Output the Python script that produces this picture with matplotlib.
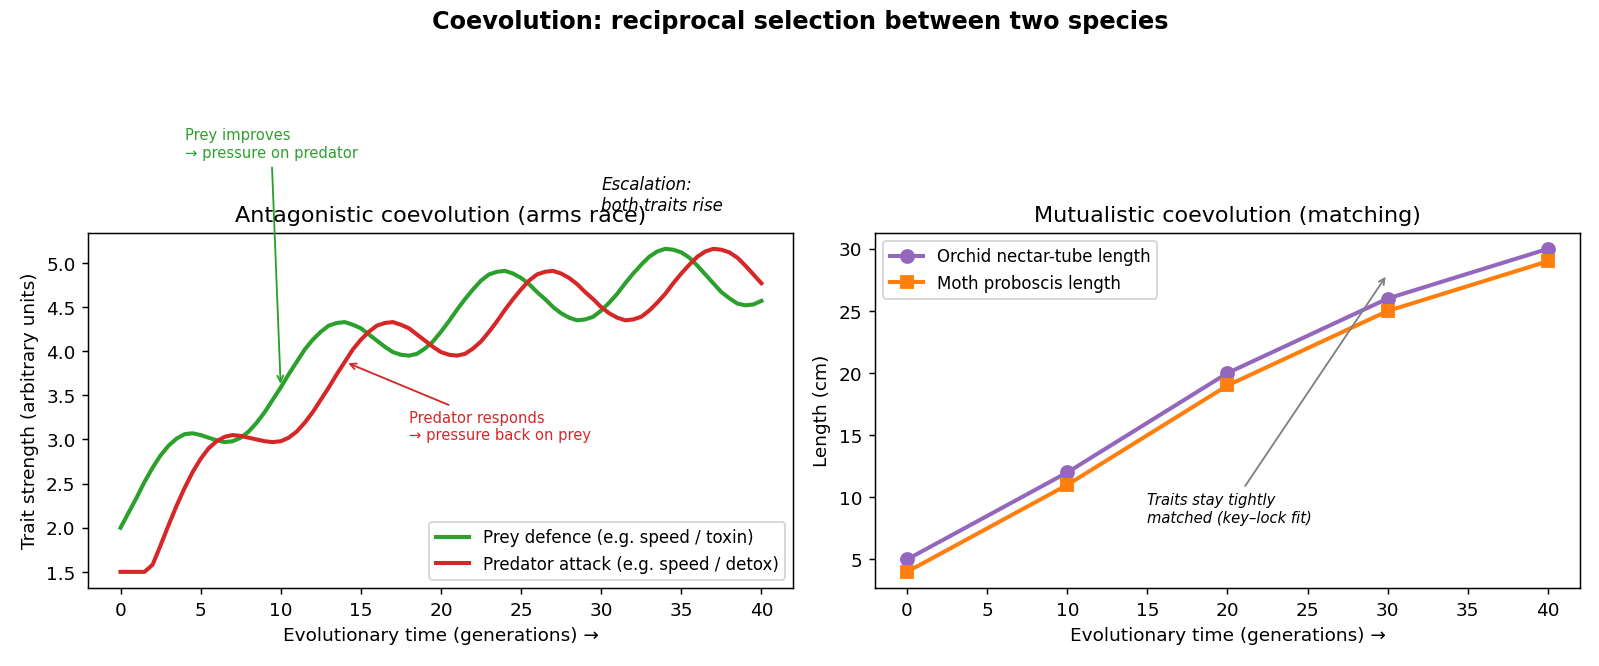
import matplotlib
matplotlib.use("Agg")
import matplotlib.pyplot as plt

gens = [i * 0.5 for i in range(81)]
prey_defence = [2.00, 2.17, 2.34, 2.52, 2.68, 2.82, 2.93, 3.01, 3.06, 3.07,
                3.05, 3.02, 2.99, 2.97, 2.98, 3.02, 3.09, 3.19, 3.31, 3.45,
                3.59, 3.74, 3.88, 4.02, 4.13, 4.22, 4.29, 4.32, 4.33, 4.30,
                4.26, 4.19, 4.12, 4.05, 3.99, 3.96, 3.95, 3.97, 4.03, 4.11,
                4.22, 4.34, 4.47, 4.59, 4.70, 4.80, 4.87, 4.90, 4.91, 4.88,
                4.83, 4.76, 4.67, 4.59, 4.50, 4.43, 4.38, 4.35, 4.36, 4.39,
                4.46, 4.55, 4.65, 4.77, 4.88, 4.98, 5.07, 5.13, 5.16, 5.15,
                5.12, 5.06, 4.97, 4.87, 4.77, 4.67, 4.60, 4.54, 4.52, 4.53,
                4.57]
predator_attack = [1.50, 1.50, 1.50, 1.50, 1.58, 1.80, 2.03, 2.25, 2.45, 2.63,
                   2.78, 2.90, 2.98, 3.03, 3.05, 3.04, 3.02, 3.00, 2.98, 2.97,
                   2.98, 3.02, 3.09, 3.19, 3.31, 3.45, 3.59, 3.74, 3.88, 4.02,
                   4.13, 4.22, 4.29, 4.32, 4.33, 4.30, 4.26, 4.19, 4.12, 4.05,
                   3.99, 3.96, 3.95, 3.97, 4.03, 4.11, 4.22, 4.34, 4.47, 4.59,
                   4.70, 4.80, 4.87, 4.90, 4.91, 4.88, 4.83, 4.76, 4.67, 4.59,
                   4.50, 4.43, 4.38, 4.35, 4.36, 4.39, 4.46, 4.55, 4.65, 4.77,
                   4.88, 4.98, 5.07, 5.13, 5.16, 5.15, 5.12, 5.06, 4.97, 4.87,
                   4.77]

match_gens = [0, 10, 20, 30, 40]
orchid_tube = [5, 12, 20, 26, 30]
moth_proboscis = [4, 11, 19, 25, 29]

fig = plt.figure(figsize=(12, 5), dpi=133.33)
ax1 = fig.add_axes([0.0553, 0.117, 0.4406, 0.533])
ax2 = fig.add_axes([0.5469, 0.117, 0.4406, 0.533])

fig.suptitle("Coevolution: reciprocal selection between two species",
             fontsize=13, fontweight="bold", y=0.985)

# ---- left panel ----
ax1.plot(gens, prey_defence, color="#2ca02c", lw=2.2, label="Prey defence (e.g. speed / toxin)")
ax1.plot(gens, predator_attack, color="#d62728", lw=2.2, label="Predator attack (e.g. speed / detox)")
ax1.set_title("Antagonistic coevolution (arms race)", fontsize=12)
ax1.set_xlabel("Evolutionary time (generations) →", fontsize=10)
ax1.set_ylabel("Trait strength (arbitrary units)", fontsize=10)
ax1.legend(loc="lower right", fontsize=9)

ax1.annotate("Prey improves\n→ pressure on predator",
             xy=(10, prey_defence[20]), xytext=(4, 6.2),
             color="#2ca02c", fontsize=8, annotation_clip=False,
             arrowprops=dict(arrowstyle="->", color="#2ca02c", lw=1))
ax1.annotate("Predator responds\n→ pressure back on prey",
             xy=(14, predator_attack[28]), xytext=(18, 3.0),
             color="#d62728", fontsize=8,
             arrowprops=dict(arrowstyle="->", color="#d62728", lw=1))
ax1.text(30, 5.6, "Escalation:\nboth traits rise", fontsize=9, style="italic",
         clip_on=False)

# ---- right panel ----
ax2.plot(match_gens, orchid_tube, color="#9467bd", lw=2.2, marker="o", ms=7,
         label="Orchid nectar-tube length")
ax2.plot(match_gens, moth_proboscis, color="#ff7f0e", lw=2.2, marker="s", ms=7,
         label="Moth proboscis length")
ax2.set_title("Mutualistic coevolution (matching)", fontsize=12)
ax2.set_xlabel("Evolutionary time (generations) →", fontsize=10)
ax2.set_ylabel("Length (cm)", fontsize=10)
ax2.set_xticks(range(0, 41, 5))
ax2.legend(loc="upper left", fontsize=9)
ax2.annotate("Traits stay tightly\nmatched (key–lock fit)",
             xy=(30, 28), xytext=(15, 8), fontsize=8, style="italic",
             arrowprops=dict(arrowstyle="->", color="gray", lw=1))

fig.savefig("out.png", dpi=133.33)
